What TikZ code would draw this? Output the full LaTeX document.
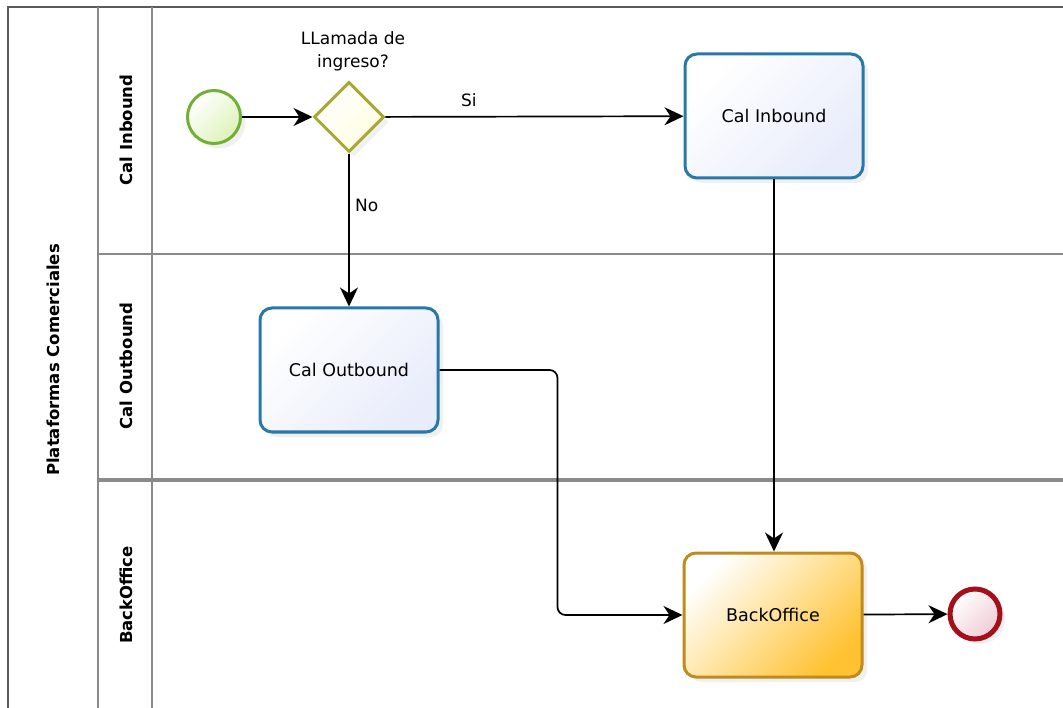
\documentclass[tikz,border=0pt]{standalone}
\usepackage{fontspec}
\setmainfont{DejaVu Sans}
\usetikzlibrary{positioning,arrows.meta,shapes.geometric,shadows}

\definecolor{poolgray}{HTML}{5A5A5A}
\definecolor{lanegray}{HTML}{8A8A8A}
\definecolor{taskblue}{HTML}{2878A8}
\definecolor{taskfill}{HTML}{E8ECFB}
\definecolor{bostroke}{HTML}{C08A1C}
\definecolor{bofill}{HTML}{FFC232}
\definecolor{startgreen}{HTML}{72B034}
\definecolor{startfill}{HTML}{DDF2B8}
\definecolor{gateolive}{HTML}{A8A832}
\definecolor{gatefill}{HTML}{FFFDE0}
\definecolor{endred}{HTML}{A50F1A}
\definecolor{endfill}{HTML}{F0CDD5}

\begin{document}
\begin{tikzpicture}[x=1pt,y=-1pt,
    pool/.style={draw=poolgray,line width=1.6pt},
    lane/.style={draw=lanegray,line width=1.6pt},
    lanelabel/.style={rotate=90,font=\bfseries\fontsize{16.5}{18}\selectfont},
    softshadow/.style={drop shadow={opacity=0.12,shadow xshift=5pt,shadow yshift=-5pt}},
    task/.style={rectangle,rounded corners=12pt,line width=3pt,minimum width=178pt,
        minimum height=124pt,font=\fontsize{17.5}{20}\selectfont,softshadow},
    bluetask/.style={task,draw=taskblue,top color=white,bottom color=taskfill,shading angle=45},
    orangetask/.style={task,draw=bostroke,top color=white,bottom color=bofill,shading angle=45},
    startev/.style={circle,draw=startgreen,line width=3pt,minimum size=53pt,inner sep=0pt,
        top color=white,bottom color=startfill,shading angle=45,softshadow},
    endev/.style={circle,draw=endred,line width=5pt,minimum size=50pt,inner sep=0pt,
        top color=white,bottom color=endfill,shading angle=45,softshadow},
    gate/.style={diamond,draw=gateolive,line width=3pt,minimum width=70pt,minimum height=70pt,
        inner sep=0pt,top color=white,bottom color=gatefill,shading angle=45,softshadow},
    flow/.style={-{Stealth[length=19pt,width=18pt,inset=6pt]},line width=1.7pt},
    txt/.style={font=\fontsize{17}{23}\selectfont}]

    \useasboundingbox (0,0) rectangle (1063,708);

    % pool and lanes
    \draw[pool] (8,708) -- (8,7) -- (1063,7);
    \draw[lane] (98,7) -- (98,708);
    \draw[lane] (152,7) -- (152,708);
    \draw[lane] (98,254) -- (1063,254);
    \draw[lane,line width=3.4pt] (98,480) -- (1063,480);

    \node[lanelabel] (plataformas) at (53,360) {Plataformas Comerciales};
    \node[lanelabel] (laneinbound) at (126,130) {Cal Inbound};
    \node[lanelabel] (laneoutbound) at (126,366) {Cal Outbound};
    \node[lanelabel] (laneback) at (126,595) {BackOffice};

    % events, gateway and tasks
    \node[startev] (inicio) at (214,117) {};
    \node[gate] (decision) at (349,117) {};
    \node[txt,align=center] (pregunta) at (353,51) {LLamada de\\ingreso?};
    \node[bluetask] (inbound) at (774,116) {Cal Inbound};
    \node[bluetask] (outbound) at (349,370) {Cal Outbound};
    \node[orangetask] (backoffice) at (773,615) {BackOffice};
    \node[endev] (fin) at (975,614) {};

    % sequence flows
    \draw[flow] (inicio) -- (decision);
    \draw[flow] (decision) -- node[txt,pos=0.28,above=6pt] {Si} (inbound);
    \draw[flow] (decision) -- node[txt,pos=0.34,right=2pt] {No} (outbound);
    \draw[flow] (inbound.south) -- (inbound.south |- backoffice.north);
    \draw[flow,rounded corners=8pt] (outbound.east) -- ++(118,0) |- (backoffice.west);
    \draw[flow] (backoffice) -- (fin);
\end{tikzpicture}
\end{document}
